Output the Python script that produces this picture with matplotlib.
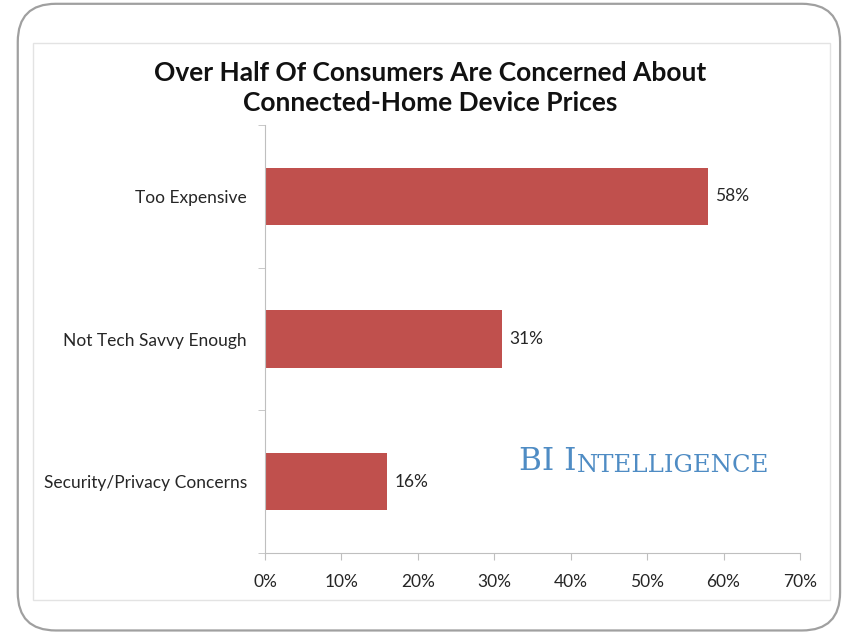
import matplotlib.pyplot as plt
from matplotlib.patches import FancyBboxPatch, Rectangle

# Data
categories = ['Security/Privacy Concerns', 'Not Tech Savvy Enough', 'Too Expensive']
values = [16, 31, 58]
xticks = [0, 10, 20, 30, 40, 50, 60, 70]

bar_color = '#C0504D'
text_color = '#262626'
axis_color = '#BFBFBF'
font = 'Lato'

fig = plt.figure(figsize=(8.46, 6.33), dpi=100)
fig.patch.set_facecolor('white')

# Outer rounded frame and inner chart frame
fig.patches.append(FancyBboxPatch((0.021, 0.004), 0.972, 0.99,
                                  boxstyle='round,pad=0,rounding_size=0.045',
                                  transform=fig.transFigure, facecolor='none',
                                  edgecolor='#A0A0A0', linewidth=1.6, mutation_aspect=846 / 633))
fig.patches.append(Rectangle((0.039, 0.052), 0.942, 0.88, transform=fig.transFigure,
                             facecolor='none', edgecolor='#E3E3E3', linewidth=1.0))

ax = fig.add_axes([0.3132, 0.1264, 0.6324, 0.6761])
bars = ax.barh(range(len(categories)), values, height=0.4, color=bar_color)

ax.set_xlim(0, 70)
ax.set_ylim(-0.5, 2.5)
ax.set_xticks(xticks)
ax.set_xticklabels([f'{x}%' for x in xticks], fontsize=12.5, color=text_color, family=font)

# category labels, ticks at the boundaries between categories
ax.set_yticks(range(len(categories)))
ax.set_yticklabels(categories, fontsize=12.5, color=text_color, family=font)
ax.tick_params(axis='y', length=0, pad=13)
ax.set_yticks([-0.5, 0.5, 1.5, 2.5], minor=True)
ax.tick_params(axis='y', which='minor', length=5, color=axis_color, direction='out')
ax.tick_params(axis='x', length=5, color=axis_color, direction='out', pad=10)

for side in ['top', 'right']:
    ax.spines[side].set_visible(False)
ax.spines['left'].set_color(axis_color)
ax.spines['bottom'].set_color(axis_color)

ax.bar_label(bars, labels=[f'{v}%' for v in values], padding=5, fontsize=12.5,
             color=text_color, family=font)

fig.text(0.508, 0.861, 'Over Half Of Consumers Are Concerned About\nConnected-Home Device Prices',
         ha='center', va='center', fontsize=19, fontweight='bold', family=font,
         color='#111111', linespacing=1.3)

# BI Intelligence watermark, small caps look
logo_color = '#4F8CC4'
t1 = fig.text(0.614, 0.258, 'BI I', fontsize=22.5, family='DejaVu Serif', color=logo_color,
              ha='left', va='baseline')
ax.annotate('NTELLIGENCE', xy=(1, 0), xycoords=t1, fontsize=17.5, family='DejaVu Serif',
            color=logo_color, ha='left', va='bottom', annotation_clip=False)

plt.savefig('out.png', dpi=100)
